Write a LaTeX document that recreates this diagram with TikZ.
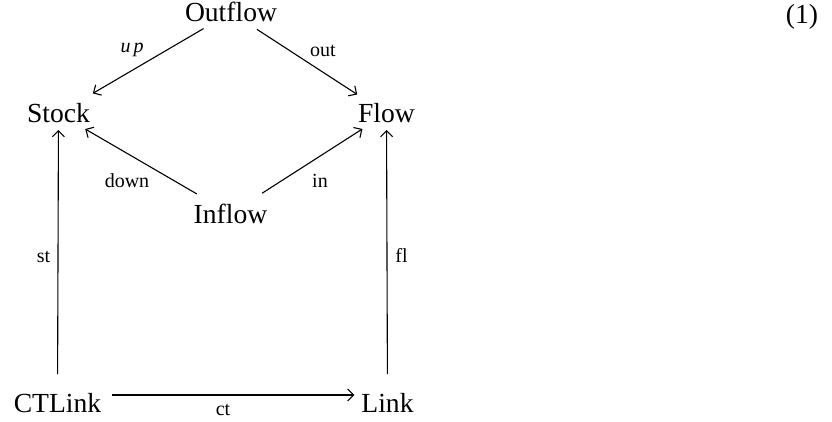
\documentclass[tikz,border=0pt]{standalone}
\usepackage{fontspec}
\setmainfont{Liberation Serif}
\usetikzlibrary{arrows.meta}
\begin{document}
\begin{tikzpicture}[x=1pt,y=-1pt,
  obj/.style={font=\fontsize{27.6}{30}\selectfont, inner sep=0pt, outer sep=0pt, anchor=base, text height=19pt, text depth=0pt},
  lbl/.style={font=\fontsize{20}{22}\selectfont, inner sep=0pt, anchor=base},
  arr/.style={line width=1.1pt, -{Straight Barb[length=6pt,width=12pt,line width=1.1pt]}}]
\useasboundingbox (0,0) rectangle (832,422);
\node[obj] (Outflow) at (231,22) {Outflow};
\node[obj] (Stock) at (58.5,123) {Stock};
\node[obj] (Flow) at (386.5,123) {Flow};
\node[obj] (Inflow) at (230.5,223) {Inflow};
\node[obj] (CTLink) at (57.5,412) {CTLink};
\node[obj] (Link) at (387.5,412) {Link};
\node[obj] (eqno) at (802,24) {(1)};
\draw[arr, shorten <=13pt, shorten >=21pt] (Outflow) -- (Stock);
\draw[arr, shorten <=13.5pt, shorten >=17.5pt] (Outflow) -- (Flow);
\draw[arr, shorten <=20pt, shorten >=12pt] (Inflow) -- (Stock);
\draw[arr, shorten <=20pt, shorten >=11pt] (Inflow) -- (Flow);
\draw[arr, shorten <=19pt, shorten >=7pt] (CTLink) -- (Stock);
\draw[arr, shorten <=19pt, shorten >=7pt] (Link) -- (Flow);
\draw[arr, shorten <=11pt, shorten >=7pt] ([yshift=7.5pt]CTLink.east) -- ([yshift=7.5pt]Link.west);
\node[lbl] (lup) at (132,53) {\textit{u\kern3pt p}};
\node[lbl] (lout) at (323,57) {out};
\node[lbl] (ldown) at (127,188) {down};
\node[lbl] (lin) at (320,188) {in};
\node[lbl] (lst) at (43.5,262) {st};
\node[lbl] (lfl) at (401.5,262) {fl};
\node[lbl] (lct) at (223,415) {ct};
\end{tikzpicture}
\end{document}
